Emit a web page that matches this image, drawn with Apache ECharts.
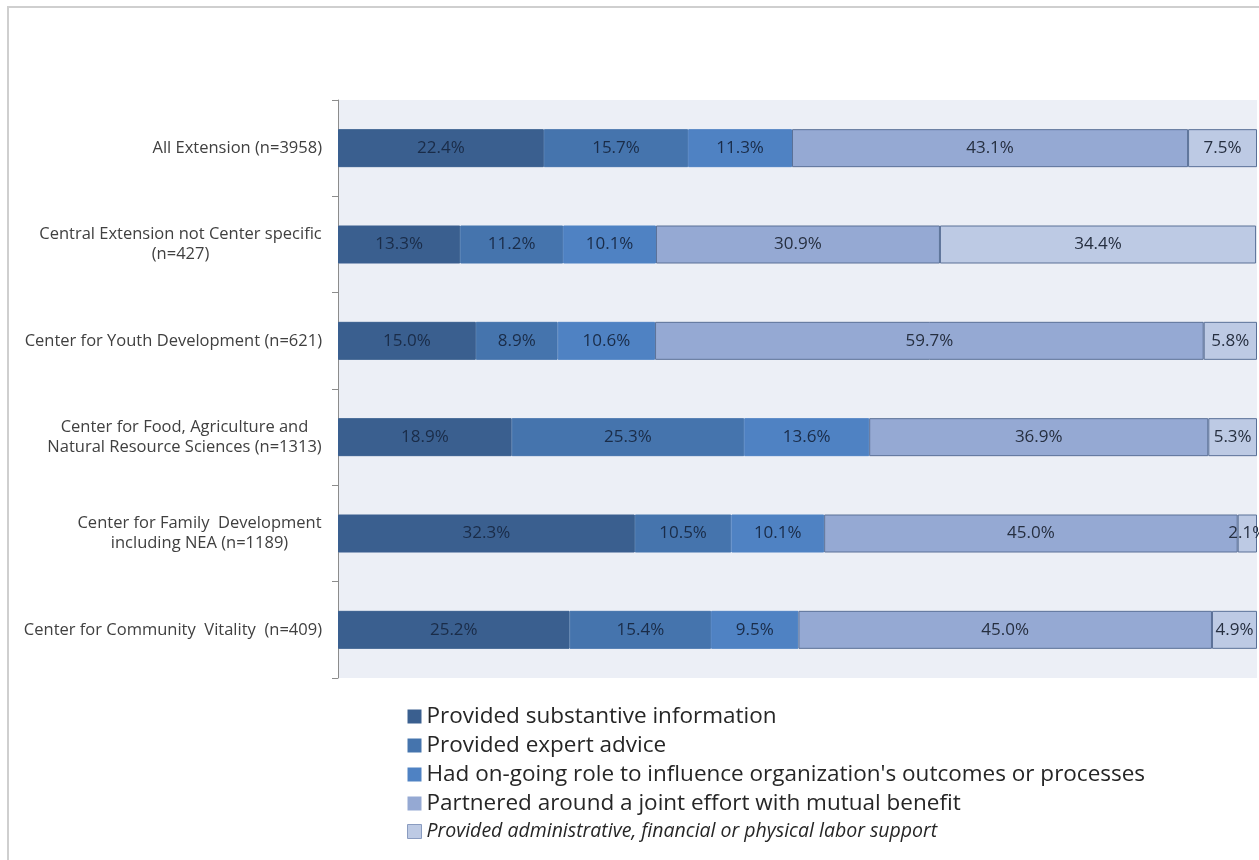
<!DOCTYPE html>
<html>
<head>
<meta charset="utf-8">
<title>Extension engagement by center</title>
<script src="https://cdn.jsdelivr.net/npm/echarts@6/dist/echarts.min.js"></script>
<style>
  html, body { margin: 0; padding: 0; background: #fff; }
  #frame { position: absolute; left: 7px; top: 6px; right: 0; bottom: 0;
           border-left: 2px solid #cfcfcf; border-top: 2px solid #cfcfcf; }
  #chart { position: absolute; left: 0; top: 0; width: 1259px; height: 860px; }
</style>
</head>
<body>
<div id="frame"></div>
<div id="chart"></div>
<script>
// Groups (top to bottom)
const categories = [
  'All Extension (n=3958)',
  'Central Extension not Center specific\n(n=427)',
  'Center for Youth Development (n=621)',
  'Center for Food, Agriculture and\nNatural Resource Sciences (n=1313)',
  'Center for Family  Development\nincluding NEA (n=1189)',
  'Center for Community  Vitality  (n=409)'
];

// Type of engagement
const seriesNames = [
  'Provided substantive information',
  'Provided expert advice',
  "Had on-going role to influence organization's outcomes or processes",
  'Partnered around a joint effort with mutual benefit',
  'Provided administrative, financial or physical labor support'
];

// Percent of respondents, per group
const substantiveInfo = [22.4, 13.3, 15.0, 18.9, 32.3, 25.2];
const expertAdvice    = [15.7, 11.2,  8.9, 25.3, 10.5, 15.4];
const ongoingRole     = [11.3, 10.1, 10.6, 13.6, 10.1,  9.5];
const partnered       = [43.1, 30.9, 59.7, 36.9, 45.0, 45.0];
const adminSupport    = [ 7.5, 34.4,  5.8,  5.3,  2.1,  4.9];

const seriesValues = [substantiveInfo, expertAdvice, ongoingRole, partnered, adminSupport];
const colors = ['#3a5f8f', '#4574ad', '#4f82c3', '#95a9d3', '#bdcae4'];
const borders = ['#3a5f8f', '#4574ad', '#4f82c3', '#5a7097', '#5a7097'];
const labelColors = ['#1a2c48', '#1a2c48', '#1a2c48', '#262f40', '#262f40'];

const FONT = 'Open Sans';
const AXIS_SIZE = 16.5;
const measureCtx = document.createElement('canvas').getContext('2d');
measureCtx.font = AXIS_SIZE + 'px "' + FONT + '"';

function blockWidth(value) {
  return Math.ceil(Math.max(...value.split('\n').map(l => measureCtx.measureText(l).width)));
}

// Two-line category labels: lines centred on each other, block right-aligned
function categoryLabel(value) {
  const lines = value.split('\n');
  if (lines.length === 1) return value;
  const w = blockWidth(value);
  return lines.map(l => '{c' + w + '|' + l + '}').join('\n');
}
const rich = {};
categories.forEach(c => {
  if (c.indexOf('\n') >= 0) {
    const w = blockWidth(c);
    rich['c' + w] = { width: w, align: 'center', fontFamily: FONT, fontSize: AXIS_SIZE,
                      color: '#404040', lineHeight: 20 };
  }
});

const chart = echarts.init(document.getElementById('chart'), null, { renderer: 'canvas' });

chart.setOption({
  animation: false,
  color: colors,
  grid: {
    left: 338, right: 2, top: 100, bottom: 182,
    show: true, backgroundColor: '#eceff6', borderWidth: 0
  },
  xAxis: {
    type: 'value', min: 0, max: 100,
    show: false
  },
  yAxis: {
    type: 'category',
    data: categories,
    inverse: true,
    axisLine: { show: true, lineStyle: { color: '#8c8c8c', width: 1 } },
    axisTick: { show: true, length: 6, lineStyle: { color: '#8c8c8c' } },
    axisLabel: {
      fontFamily: FONT, fontSize: AXIS_SIZE, color: '#404040', margin: 16,
      lineHeight: 20, formatter: categoryLabel, rich: rich
    }
  },
  legend: {
    orient: 'vertical',
    left: 402, top: 700,
    itemWidth: 14, itemHeight: 14, itemGap: 6,
    icon: 'rect',
    textStyle: { fontFamily: FONT, fontSize: 22.5, lineHeight: 21, color: '#262626' },
    data: seriesNames.map((n, i) => i === 4
      ? { name: n, itemStyle: { borderColor: '#8a9cc0', borderWidth: 1 },
          textStyle: { fontStyle: 'italic', fontSize: 19.5, lineHeight: 21, color: '#262626' } }
      : { name: n, itemStyle: { borderWidth: 0 } })
  },
  series: seriesNames.map((name, i) => ({
    name: name,
    type: 'bar',
    stack: 'total',
    barWidth: 38,
    data: seriesValues[i],
    itemStyle: { color: colors[i], borderColor: borders[i], borderWidth: 1 },
    label: {
      show: true,
      position: 'inside',
      formatter: p => p.value.toFixed(1) + '%',
      fontFamily: FONT, fontSize: 17, color: labelColors[i]
    }
  }))
});
</script>
</body>
</html>
